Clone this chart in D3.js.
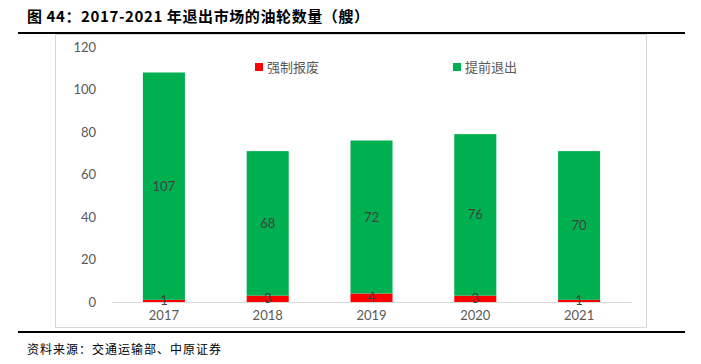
<!DOCTYPE html>
<html>
<head>
<meta charset="utf-8">
<script src="https://cdn.jsdelivr.net/npm/d3@7"></script>
<style>
  body { margin: 0; background: #fff; }
  svg { display: block; }
</style>
</head>
<body>
<script>
var years = ["2017", "2018", "2019", "2020", "2021"];
var scrapped = [1, 3, 4, 3, 1];      // 强制报废
var earlyExit = [107, 68, 72, 76, 70]; // 提前退出
var yTicks = [0, 20, 40, 60, 80, 100, 120];
var seriesNames = ["强制报废", "提前退出"];
var seriesColors = ["#ff0000", "#00b050"];

var W = 701, H = 364;
var svg = d3.select("body").append("svg").attr("width", W).attr("height", H);

var cjk = "'Noto Sans CJK SC', sans-serif";
var num = "Lato, 'Open Sans', sans-serif";

// title
svg.append("text")
  .attr("x", 27).attr("y", 22)
  .style("font-family", cjk).style("font-weight", "bold").style("font-size", "15px")
  .style("letter-spacing", "0.6px")
  .style("fill", "#000")
  .text("图 44：2017-2021 年退出市场的油轮数量（艘）");

svg.append("line").attr("x1", 18).attr("x2", 685).attr("y1", 33).attr("y2", 33)
  .style("stroke", "#000").style("stroke-width", 2);
svg.append("line").attr("x1", 18).attr("x2", 685).attr("y1", 332).attr("y2", 332)
  .style("stroke", "#000").style("stroke-width", 2);

svg.append("text")
  .attr("x", 27).attr("y", 354)
  .style("font-family", cjk).style("font-size", "12px").style("fill", "#000")
  .style("letter-spacing", "1px")
  .text("资料来源：交通运输部、中原证券");

// chart frame
svg.append("rect").attr("x", 55.5).attr("y", 34.5).attr("width", 591).attr("height", 293)
  .style("fill", "none").style("stroke", "#d9d9d9");

var x = d3.scaleBand().domain(years).range([112, 631]).paddingInner(0.595).paddingOuter(0.2975);
var y = d3.scaleLinear().domain([0, 120]).range([302, 47]);

var stackData = years.map(function(yr, i) {
  return { year: yr, s0: scrapped[i], s1: earlyExit[i] };
});
var stack = d3.stack().keys(["s0", "s1"])(stackData);

// y axis labels
var yAxis = d3.axisLeft(y).tickValues(yTicks).tickSize(0).tickPadding(0);
var gy = svg.append("g").attr("transform", "translate(96,0)").call(yAxis);
gy.select(".domain").remove();
gy.selectAll("text").style("font-family", num).style("font-size", "13px").style("fill", "#595959");

// bars
svg.selectAll("g.layer").data(stack).enter().append("g")
  .attr("class", "layer")
  .style("fill", function(d, i) { return seriesColors[i]; })
  .selectAll("rect").data(function(d) { return d; }).enter().append("rect")
  .attr("x", function(d) { return x(d.data.year); })
  .attr("width", x.bandwidth())
  .attr("y", function(d) { return y(d[1]); })
  .attr("height", function(d) { return y(d[0]) - y(d[1]); });

// x axis
var xAxis = d3.axisBottom(x).tickSize(0).tickPadding(9);
var gx = svg.append("g").attr("transform", "translate(0,302)").call(xAxis);
gx.select(".domain").style("stroke", "#d9d9d9");
gx.selectAll("text").style("font-family", num).style("font-size", "13px").style("fill", "#595959");

// data labels
stack.forEach(function(layer) {
  svg.append("g").selectAll("text").data(layer).enter().append("text")
    .attr("x", function(d) { return x(d.data.year) + x.bandwidth() / 2; })
    .attr("y", function(d) { return (y(d[0]) + y(d[1])) / 2; })
    .attr("text-anchor", "middle").attr("dy", "0.35em")
    .style("font-family", num).style("font-size", "13px").style("fill", "#404040")
    .text(function(d) { return d[1] - d[0]; });
});

// legend
var legendX = [255, 453];
var lg = svg.selectAll("g.legend").data(seriesNames).enter().append("g")
  .attr("class", "legend")
  .attr("transform", function(d, i) { return "translate(" + legendX[i] + ",63)"; });
lg.append("rect").attr("width", 8).attr("height", 8)
  .style("fill", function(d, i) { return seriesColors[i]; });
lg.append("text").attr("x", 12).attr("y", 4).attr("dy", "0.35em")
  .style("font-family", cjk).style("font-size", "13px").style("fill", "#595959")
  .text(function(d) { return d; });
</script>
</body>
</html>
